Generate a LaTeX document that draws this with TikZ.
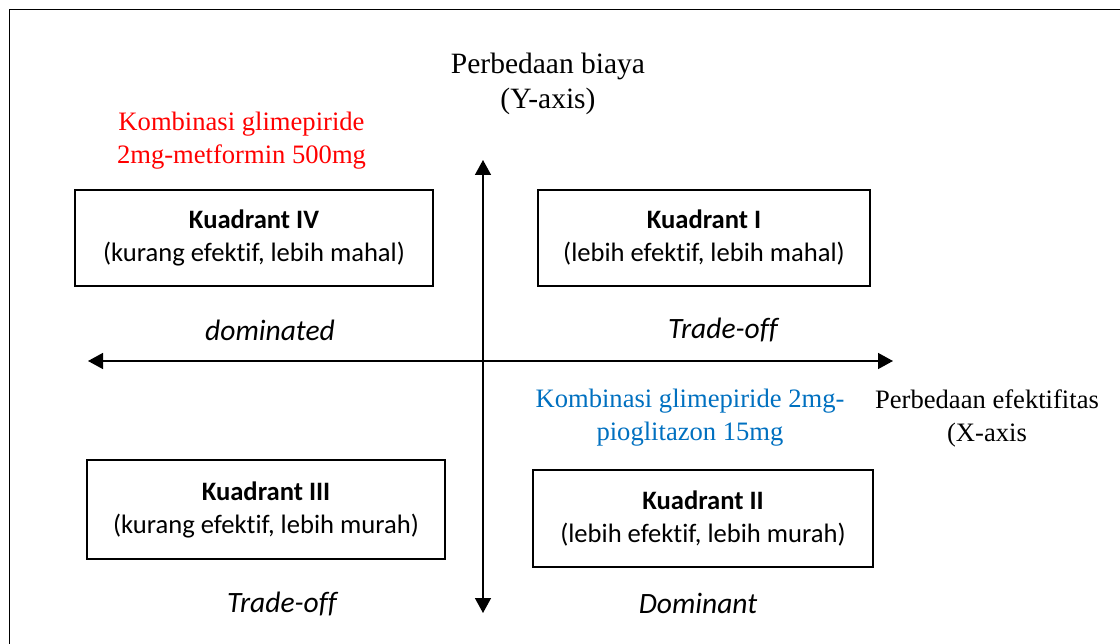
\documentclass[tikz,border=0pt]{standalone}
\usepackage{fontspec}
\setmainfont{Liberation Serif}
\newfontfamily\calfont[Ligatures=NoCommon]{Carlito}
\usetikzlibrary{arrows.meta}
\definecolor{labelred}{RGB}{255,0,0}
\definecolor{labelblue}{RGB}{0,112,192}
\begin{document}
\begin{tikzpicture}[x=1pt,y=-1pt,
  qbox/.style={draw, line width=1.3pt, inner sep=0pt, align=center,
    font=\calfont\fontsize{26.6}{33}\selectfont},
  serif/.style={inner sep=0pt, align=center, font=\fontsize{26.6}{33}\selectfont},
  quadlabel/.style={inner sep=0pt, font=\calfont\itshape\fontsize{29.5}{35}\selectfont},
  axis/.style={line width=1.5pt,
    {Triangle[length=15pt,width=16pt]}-{Triangle[length=15pt,width=16pt]}}
]
\useasboundingbox (0,0) rectangle (1120,644);
% outer frame
\draw[line width=1.5pt] (9.5,644) -- (9.5,9.5) -- (1120,9.5);

% axes
\coordinate (ytop) at (483,160);
\coordinate (ybot) at (483,613);
\coordinate (xleft) at (88,361);
\coordinate (xright) at (893,361);
\draw[axis] (ybot) -- (ytop);
\draw[axis] (xleft) -- (xright);

% axis titles
\node[serif, font=\fontsize{29.5}{35}\selectfont] (ytitle) at (548,84) {Perbedaan biaya\\(Y-axis)};
\node[serif] (xtitle) at (987,418) {Perbedaan efektifitas\\(X-axis};

% quadrant boxes
\node[qbox, minimum width=358pt, minimum height=96pt] (q4) at (254,238)
  {\textbf{Kuadrant IV}\\(kurang efektif, lebih mahal)};
\node[qbox, minimum width=332pt, minimum height=96pt] (q1) at (704,238)
  {\textbf{Kuadrant I}\\(lebih efektif, lebih mahal)};
\node[qbox, minimum width=358pt, minimum height=99pt] (q3) at (266,509.5)
  {\textbf{Kuadrant III}\\(kurang efektif, lebih murah)};
\node[qbox, minimum width=340pt, minimum height=97pt] (q2) at (703,518.5)
  {\textbf{Kuadrant II}\\(lebih efektif, lebih murah)};

% quadrant labels
\node[quadlabel] (ldom) at (270,330) {dominated};
\node[quadlabel] (ltr1) at (723,330) {Trade-off};
\node[quadlabel] (ltr2) at (282,604) {Trade-off};
\node[quadlabel] (ldomi) at (698,603) {Dominant};

% drug combinations
\node[serif, text=labelred] (metf) at (241.5,141) {Kombinasi glimepiride\\2mg-metformin 500mg};
\node[serif, text=labelblue] (piog) at (690,418) {Kombinasi glimepiride 2mg-\\pioglitazon 15mg};
\end{tikzpicture}
\end{document}
